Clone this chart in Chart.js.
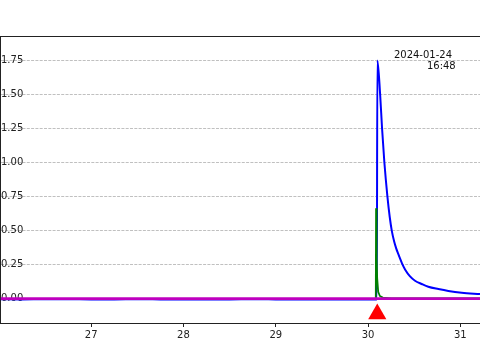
<!DOCTYPE html>
<html>
<head>
<meta charset="utf-8">
<script src="https://cdn.jsdelivr.net/npm/chart.js@4/dist/chart.umd.min.js"></script>
<style>
  html, body { margin: 0; padding: 0; background: #fff; }
  #wrap { width: 480px; height: 360px; }
</style>
</head>
<body>
<div id="wrap"><canvas id="c" width="480" height="360"></canvas></div>
<script>
// ---- data ----
const blueX = [26.02, 26.25, 26.5, 26.75, 27.0, 27.25, 27.5, 27.75, 28.0, 28.25, 28.5, 28.75, 29.0, 29.25, 29.5, 29.75, 30.0, 30.09,
               30.095, 30.101, 30.131, 30.152, 30.177, 30.21, 30.235, 30.257, 30.283, 30.305, 30.325, 30.368, 30.401, 30.455, 30.509, 30.582, 30.653, 30.762, 30.87, 31.015, 31.213];
const blueY = [-0.004, -0.005, -0.004, -0.004, -0.005, -0.005, -0.004, -0.005, -0.006, -0.005, -0.005, -0.004, -0.005, -0.006, -0.005, -0.006, -0.006, -0.006,
               -0.006, 1.75, 1.5, 1.25, 1.0, 0.75, 0.6, 0.5, 0.42, 0.37, 0.333, 0.26, 0.215, 0.164, 0.132, 0.108, 0.088, 0.071, 0.057, 0.044, 0.034];

const greenX = [26.02, 26.5, 27.0, 27.5, 28.0, 28.5, 29.0, 29.5, 30.0, 30.084, 30.087, 30.093, 30.099, 30.11, 30.128, 30.16, 30.25, 30.6, 31.0, 31.213];
const greenY = [-0.002, -0.003, -0.002, -0.003, -0.003, -0.002, -0.003, -0.003, -0.002, -0.002, 0.664, 0.3, 0.15, 0.05, 0.02, 0.008, 0.003, 0.002, 0.002, 0.002];

const magentaX = [26.02, 27.0, 28.0, 29.0, 30.0, 31.0, 31.213];
const magentaY = [0.001, 0.001, 0.001, 0.001, 0.001, 0.001, 0.001];

const markerX = [30.1];
const markerY = [-0.112];

const xTicks = [27, 28, 29, 30, 31];
const yTicks = [0, 0.25, 0.5, 0.75, 1.0, 1.25, 1.5, 1.75];
const xRange = [26.018, 31.213];
const yRange = [-0.182, 1.929];

const stampLines = ['2024-01-24', '16:48'];

// ---- build ----
const pts = (xs, ys) => xs.map((x, i) => ({ x: x, y: ys[i] }));
const FONT = "'DejaVu Sans', sans-serif";
const INK = '#222222';

const frame = {
  id: 'frame',
  afterDraw(chart) {
    const { ctx, chartArea: a, scales } = chart;
    ctx.save();
    ctx.strokeStyle = INK;
    ctx.lineWidth = 1;
    ctx.beginPath();
    ctx.moveTo(a.left, Math.round(a.top) + 0.5);
    ctx.lineTo(chart.width, Math.round(a.top) + 0.5);
    ctx.stroke();
    ctx.fillStyle = '#111';
    ctx.font = '10px ' + FONT;
    ctx.textBaseline = 'middle';
    ctx.textAlign = 'right';
    ctx.fillText(stampLines[0], scales.x.getPixelForValue(30.91), scales.y.getPixelForValue(1.79));
    ctx.fillText(stampLines[1], scales.x.getPixelForValue(30.95), scales.y.getPixelForValue(1.705));
    ctx.restore();
  }
};

new Chart(document.getElementById('c'), {
  type: 'scatter',
  data: {
    datasets: [
      { data: pts(magentaX, magentaY), showLine: true, borderColor: '#bf00bf', borderWidth: 2.6, pointRadius: 0, order: 1 },
      { data: pts(greenX, greenY), showLine: true, borderColor: '#008000', borderWidth: 1.8, pointRadius: 0, order: 2 },
      { data: pts(blueX, blueY), showLine: true, borderColor: '#0000ff', borderWidth: 2, pointRadius: 0, order: 3, cubicInterpolationMode: 'monotone' },
      { data: pts(markerX, markerY), showLine: false, pointStyle: 'triangle', pointRadius: 10.5, backgroundColor: '#ff0000', borderWidth: 0, order: 0 }
    ]
  },
  options: {
    responsive: false,
    animation: false,
    devicePixelRatio: 1,
    layout: { autoPadding: false, padding: { top: 36, left: 0.5, right: 0, bottom: 0 } },
    plugins: { legend: { display: false }, tooltip: { enabled: false } },
    scales: {
      x: {
        type: 'linear',
        min: xRange[0], max: xRange[1],
        afterBuildTicks: s => { s.ticks = xTicks.map(v => ({ value: v })); },
        afterFit: s => { s.height = 36.5; s.paddingLeft = 0; s.paddingRight = 0; },
        grid: { drawOnChartArea: false, drawTicks: true, tickLength: 3.5, color: INK, lineWidth: 1 },
        border: { display: true, color: INK, width: 1 },
        ticks: { color: INK, font: { family: FONT, size: 10 }, padding: 2, maxRotation: 0, callback: v => String(v) }
      },
      y: {
        type: 'linear',
        min: yRange[0], max: yRange[1],
        afterBuildTicks: s => { s.ticks = yTicks.map(v => ({ value: v })); },
        afterFit: s => { s.width = 0; s.paddingTop = 0; s.paddingBottom = 0; },
        grid: { drawTicks: false, color: '#b0b0b0', lineWidth: 0.8 },
        border: { display: true, color: INK, width: 1, dash: [3, 1.3] },
        ticks: { mirror: true, padding: 0.5, color: INK, font: { family: FONT, size: 10 }, callback: v => Number(v).toFixed(2) }
      }
    }
  },
  plugins: [frame]
});
</script>
</body>
</html>
